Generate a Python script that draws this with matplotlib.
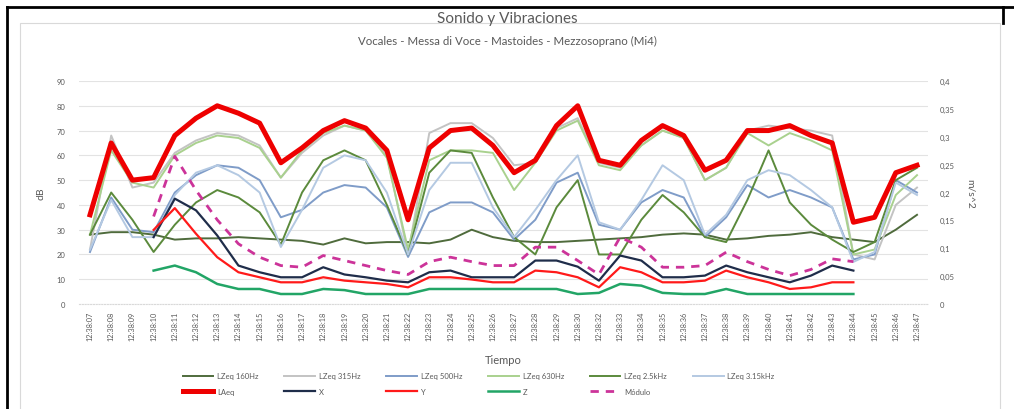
import numpy as np
import matplotlib
matplotlib.use("Agg")
import matplotlib.pyplot as plt
from matplotlib.ticker import FuncFormatter, MultipleLocator
from matplotlib.patches import Rectangle
from matplotlib.lines import Line2D

plt.rcParams['font.family'] = ['Lato', 'DejaVu Sans']

# Data
tiempo = ["12:38:07", "12:38:08", "12:38:09", "12:38:10", "12:38:11", "12:38:12",
          "12:38:13", "12:38:14", "12:38:15", "12:38:16", "12:38:17", "12:38:18",
          "12:38:19", "12:38:20", "12:38:21", "12:38:22", "12:38:23", "12:38:24",
          "12:38:25", "12:38:26", "12:38:27", "12:38:28", "12:38:29", "12:38:30",
          "12:38:32", "12:38:33", "12:38:34", "12:38:35", "12:38:36", "12:38:37",
          "12:38:38", "12:38:39", "12:38:40", "12:38:41", "12:38:42", "12:38:43",
          "12:38:44", "12:38:45", "12:38:46", "12:38:47"]

lzeq_160 = [28, 29, 29, 28, 26, 26.5, 26.5, 27, 26.5, 26, 25.5, 24, 26.5, 24.5, 25,
            25, 24.5, 26, 30, 27, 25.5, 25, 25, 25.5, 26, 26.5, 27, 28, 28.5, 28,
            26, 26.5, 27.5, 28, 29, 27, 26, 25, 30, 36]
lzeq_315 = [22, 68, 47, 49, 61, 66, 69, 68, 64, 51, 61, 68, 72, 70, 60, 20, 69, 73, 73, 67,
            56, 57, 71, 75, 57, 55, 64, 70, 67, 50, 55, 70, 72, 71, 70, 68, 20, 18, 40, 47]
lzeq_500 = [21, 43, 30, 29, 45, 52, 56, 55, 50, 35, 38, 45, 48, 47, 39, 19, 37, 41, 41, 37,
            26, 34, 49, 53, 32, 30, 41, 46, 43, 27, 35, 48, 43, 46, 43, 39, 18, 20, 50, 45]
lzeq_630 = [28, 62, 49, 47, 60, 65, 68, 67, 63, 51, 62, 69, 72, 70, 59, 22, 58, 62, 62, 61,
            46, 57, 70, 74, 56, 54, 64, 70, 67, 50, 55, 69, 64, 69, 66, 62, 20, 22, 44, 52]
lzeq_2k5 = [28, 45, 34, 21, 32, 41, 46, 43, 37, 24, 45, 58, 62, 58, 40, 20, 53, 62, 61, 43,
            27, 20, 39, 50, 20, 20, 34, 44, 37, 27, 25, 42, 62, 41, 32, 26, 21, 25, 50, 55]
lzeq_3k15 = [22, 42, 27, 27, 44, 53, 56, 52, 45, 23, 38, 55, 60, 58, 45, 20, 46, 57, 57, 39,
             27, 38, 50, 60, 33, 30, 42, 56, 50, 28, 36, 50, 54, 52, 46, 39, 17, 21, 49, 44]
laeq = [36, 65, 50, 51, 68, 75, 80, 77, 73, 57, 63, 70, 74, 71, 62, 34, 63, 70, 71, 64,
        53, 58, 72, 80, 58, 56, 66, 72, 68, 54, 58, 70, 70, 72, 68, 65, 33, 35, 53, 56]

nan = np.nan
vib_x = [nan, nan, nan, 0.12, 0.189, 0.168, 0.123, 0.069, 0.057, 0.048, 0.048, 0.066, 0.053,
         0.048, 0.042, 0.039, 0.057, 0.060, 0.048, 0.048, 0.048, 0.078, 0.078, 0.067, 0.042,
         0.087, 0.078, 0.048, 0.048, 0.051, 0.069, 0.057, 0.048, 0.039, 0.051, 0.069, 0.060,
         nan, nan, nan]
vib_y = [nan, nan, nan, 0.133, 0.172, 0.126, 0.084, 0.057, 0.048, 0.039, 0.039, 0.048, 0.042,
         0.039, 0.036, 0.030, 0.048, 0.048, 0.044, 0.039, 0.039, 0.060, 0.057, 0.048, 0.030,
         0.066, 0.057, 0.039, 0.039, 0.042, 0.060, 0.048, 0.039, 0.027, 0.030, 0.039, 0.039,
         nan, nan, nan]
vib_z = [nan, nan, nan, 0.060, 0.069, 0.057, 0.036, 0.027, 0.027, 0.018, 0.018, 0.027, 0.025,
         0.018, 0.018, 0.018, 0.027, 0.027, 0.027, 0.027, 0.027, 0.027, 0.027, 0.018, 0.020,
         0.036, 0.033, 0.020, 0.018, 0.018, 0.027, 0.018, 0.018, 0.018, 0.018, 0.018, 0.018,
         nan, nan, nan]
vib_mod = [nan, nan, nan, 0.157, 0.265, 0.204, 0.151, 0.108, 0.084, 0.069, 0.066, 0.087, 0.078,
           0.069, 0.060, 0.053, 0.076, 0.084, 0.076, 0.069, 0.069, 0.102, 0.102, 0.078, 0.053,
           0.120, 0.102, 0.066, 0.066, 0.069, 0.093, 0.076, 0.062, 0.051, 0.062, 0.081, 0.076,
           nan, nan, nan]

grey_txt = "#595959"

fig = plt.figure(figsize=(10.14, 4.10), dpi=100)
ax = fig.add_axes([0.0783, 0.256, 0.8365, 0.544])
ax2 = ax.twinx()

x = np.arange(len(tiempo))

# primary axis series (dB)
l160, = ax.plot(x, lzeq_160, color="#4f6b3c", lw=1.4, label="LZeq 160Hz")
l315, = ax.plot(x, lzeq_315, color="#c3c3c3", lw=1.4, label="LZeq 315Hz")
l500, = ax.plot(x, lzeq_500, color="#7f9cc8", lw=1.4, label="LZeq 500Hz")
l630, = ax.plot(x, lzeq_630, color="#a9d18e", lw=1.4, label="LZeq 630Hz")
l2k5, = ax.plot(x, lzeq_2k5, color="#5b8a3c", lw=1.4, label="LZeq 2.5kHz")
l3k15, = ax.plot(x, lzeq_3k15, color="#b4c9e2", lw=1.4, label="LZeq 3.15kHz")
lla, = ax.plot(x, laeq, color="#ee0000", lw=3.6, label="LAeq", solid_joinstyle="round")

# secondary axis series (m/s^2)
lx, = ax2.plot(x, vib_x, color="#1f2d4a", lw=1.6, label="X")
ly, = ax2.plot(x, vib_y, color="#ff1a1a", lw=1.6, label="Y")
lz, = ax2.plot(x, vib_z, color="#22a566", lw=1.8, label="Z")
lm, = ax2.plot(x, vib_mod, color="#cc3399", lw=2.0, ls=(0, (3, 2.5)), label="Módulo")

ax.set_xlim(-0.5, len(tiempo) - 0.5)
ax.set_ylim(0, 90)
ax2.set_ylim(0, 0.4)
ax.yaxis.set_major_locator(MultipleLocator(10))
ax2.yaxis.set_major_locator(MultipleLocator(0.05))
ax2.yaxis.set_major_formatter(FuncFormatter(lambda v, p: ("%g" % round(v, 2)).replace(".", ",")))

ax.grid(axis="y", color="#e3e3e3", lw=0.8)
ax.set_axisbelow(True)
for a in (ax, ax2):
    for s in a.spines.values():
        s.set_visible(False)
    a.tick_params(length=0, labelsize=5.5, labelcolor=grey_txt)
ax.spines["bottom"].set_visible(True)
ax.spines["bottom"].set_color("#d9d9d9")
ax.spines["bottom"].set_linestyle((0, (1, 1.5)))

ax.set_xticks(x)
ax.set_xticklabels(tiempo, rotation=90, fontsize=5.3, color=grey_txt)
ax.tick_params(axis="x", pad=5)
ax.tick_params(axis="y", pad=10)
ax2.tick_params(axis="y", pad=9)

ax.set_ylabel("dB", fontsize=7.5, color=grey_txt, labelpad=8)
ax2.set_ylabel("m/s^2", fontsize=7.5, color=grey_txt, rotation=270, labelpad=14)
ax.set_xlabel("Tiempo", fontsize=8, color=grey_txt, labelpad=10)

fig.text(0.5, 0.953, "Sonido y Vibraciones", ha="center", va="center",
         fontsize=11, color=grey_txt)
fig.text(0.5, 0.90, "Vocales - Messa di Voce - Mastoides - Mezzosoprano (Mi4)",
         ha="center", va="center", fontsize=8.3, color=grey_txt)

# legend, laid out row by row
handles = [l160, lla, l315, lx, l500, ly, l630, lz, l2k5, lm, l3k15]
fig.legend(handles=handles, labels=[h.get_label() for h in handles], ncol=6,
           loc="center", bbox_to_anchor=(0.472, 0.062), frameon=False,
           fontsize=5.5, handlelength=4.0, columnspacing=3.4, labelcolor=grey_txt,
           handletextpad=0.5, borderaxespad=0, labelspacing=1.15)

# chart area border and sheet cell borders
fig.patches.append(Rectangle((20 / 1014, -0.05), 980 / 1014, 1.05 - 24 / 410,
                             transform=fig.transFigure, fill=False,
                             edgecolor="#d9d9d9", lw=0.8))
fig.add_artist(Line2D([7 / 1014, 1.0], [1 - 8 / 410, 1 - 8 / 410],
                      transform=fig.transFigure, color="black", lw=2))
fig.add_artist(Line2D([7 / 1014, 7 / 1014], [0, 1 - 8 / 410],
                      transform=fig.transFigure, color="black", lw=2))
fig.add_artist(Line2D([1003 / 1014, 1003 / 1014], [1 - 24 / 410, 1 - 8 / 410],
                      transform=fig.transFigure, color="black", lw=2))

fig.savefig("out.png", dpi=100)
